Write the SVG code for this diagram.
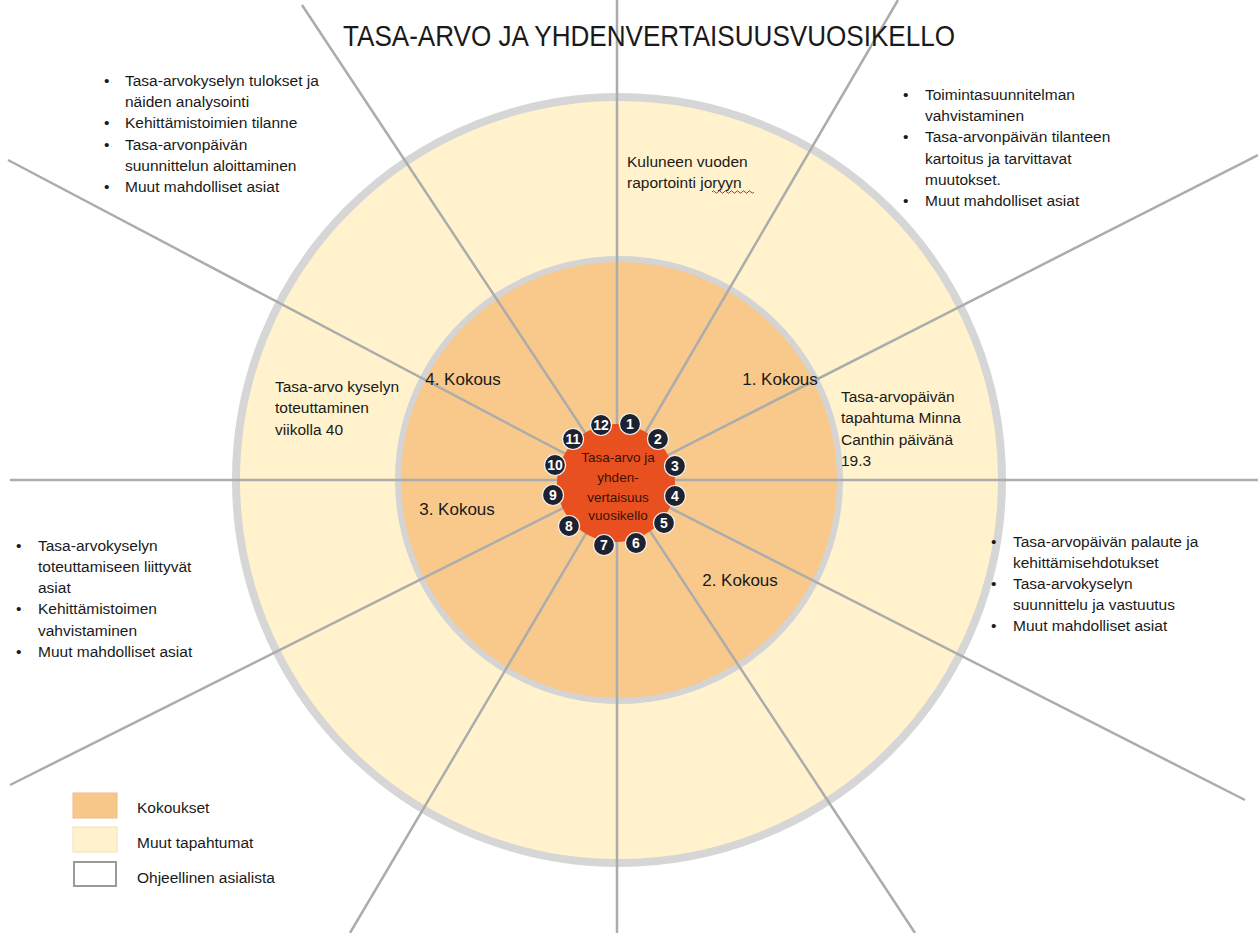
<svg xmlns="http://www.w3.org/2000/svg" width="1258" height="933" viewBox="0 0 1258 933">
<style>
text{font-family:"Liberation Sans",Arial,sans-serif;fill:#1a1a1a}
.t{font-size:15.5px}
.k{font-size:17px}
.c{font-size:13.5px;fill:#3a1208;text-anchor:middle}
.n{font-size:14px;font-weight:bold;fill:#fff;text-anchor:middle}
.spoke{stroke:#acacac;stroke-width:2.5;fill:none}
.num{fill:#1e2130;stroke:#f3f3f3;stroke-width:1.2}
</style>
<rect width="1258" height="933" fill="#fff"/>
<g id="outer-ring"><circle cx="619" cy="480" r="383" fill="#fff2cc" stroke="#d6d6d6" stroke-width="8"/></g>
<g id="inner-ring"><circle cx="619" cy="480" r="221" fill="#f9c98b" stroke="#d4d4d4" stroke-width="6"/></g>
<g id="connectors">
<line class="spoke" x1="617" y1="0" x2="617" y2="933"/>
<line class="spoke" x1="10" y1="480" x2="1258" y2="480"/>
<line class="spoke" x1="302" y1="5" x2="617" y2="481"/>
<line class="spoke" x1="898" y1="0" x2="617" y2="481"/>
<line class="spoke" x1="1258" y1="155" x2="617" y2="481"/>
<line class="spoke" x1="8" y1="160" x2="617" y2="481"/>
<line class="spoke" x1="10" y1="785" x2="617" y2="481"/>
<line class="spoke" x1="350" y1="933" x2="617" y2="481"/>
<line class="spoke" x1="915" y1="933" x2="617" y2="481"/>
<line class="spoke" x1="1245" y1="800" x2="617" y2="481"/>
</g>
<g id="title"><text x="343" y="46" font-size="30" textLength="612" lengthAdjust="spacingAndGlyphs">TASA-ARVO JA YHDENVERTAISUUSVUOSIKELLO</text></g>
<g id="center">
<circle cx="616" cy="483" r="59" fill="#e8511f"/>
<text class="c" x="618" y="462">Tasa-arvo ja</text>
<text class="c" x="618" y="482">yhden-</text>
<text class="c" x="618" y="502">vertaisuus</text>
<text class="c" x="618" y="520">vuosikello</text>
</g>
<g id="months">
<circle class="num" cx="601" cy="425" r="10.5"/><text class="n" x="601" y="430">12</text>
<circle class="num" cx="630" cy="424" r="10.5"/><text class="n" x="630" y="429">1</text>
<circle class="num" cx="658" cy="439" r="10.5"/><text class="n" x="658" y="444">2</text>
<circle class="num" cx="675" cy="466" r="10.5"/><text class="n" x="675" y="471">3</text>
<circle class="num" cx="675" cy="496" r="10.5"/><text class="n" x="675" y="501">4</text>
<circle class="num" cx="664" cy="523" r="10.5"/><text class="n" x="664" y="528">5</text>
<circle class="num" cx="636" cy="543" r="10.5"/><text class="n" x="636" y="548">6</text>
<circle class="num" cx="604" cy="545" r="10.5"/><text class="n" x="604" y="550">7</text>
<circle class="num" cx="569" cy="526" r="10.5"/><text class="n" x="569" y="531">8</text>
<circle class="num" cx="553" cy="495" r="10.5"/><text class="n" x="553" y="500">9</text>
<circle class="num" cx="555" cy="465" r="10.5"/><text class="n" x="555" y="470">10</text>
<circle class="num" cx="573" cy="439" r="10.5"/><text class="n" x="573" y="444">11</text>
</g>
<g id="meetings">
<text class="k" x="780" y="385" text-anchor="middle">1. Kokous</text>
<text class="k" x="740" y="586" text-anchor="middle">2. Kokous</text>
<text class="k" x="457" y="515" text-anchor="middle">3. Kokous</text>
<text class="k" x="463" y="385" text-anchor="middle">4. Kokous</text>
</g>
<g id="event-report">
<text class="t" x="627" y="167">Kuluneen vuoden</text>
<text class="t" x="627" y="188">raportointi joryyn</text>
<path d="M712,192 q1.5,-2.5 3,0 t3,0 t3,0 t3,0 t3,0 t3,0 t3,0 t3,0 t3,0 t3,0 t3,0 t3,0 t3,0 t3,0" fill="none" stroke="#e0201e" stroke-width="1"/>
</g>
<g id="event-survey">
<text class="t" x="275" y="392">Tasa-arvo kyselyn</text>
<text class="t" x="275" y="413">toteuttaminen</text>
<text class="t" x="275" y="435">viikolla 40</text>
</g>
<g id="event-day">
<text class="t" x="841" y="402">Tasa-arvopäivän</text>
<text class="t" x="841" y="423">tapahtuma Minna</text>
<text class="t" x="841" y="445">Canthin päivänä</text>
<text class="t" x="841" y="466">19.3</text>
</g>
<g id="agenda-4">
<text class="t" x="104" y="86">•</text><text class="t" x="125" y="86">Tasa-arvokyselyn tulokset ja</text>
<text class="t" x="125" y="107">näiden analysointi</text>
<text class="t" x="104" y="128">•</text><text class="t" x="125" y="128">Kehittämistoimien tilanne</text>
<text class="t" x="104" y="150">•</text><text class="t" x="125" y="150">Tasa-arvonpäivän</text>
<text class="t" x="125" y="171">suunnittelun aloittaminen</text>
<text class="t" x="104" y="192">•</text><text class="t" x="125" y="192">Muut mahdolliset asiat</text>
</g>
<g id="agenda-1">
<text class="t" x="903" y="100">•</text><text class="t" x="925" y="100">Toimintasuunnitelman</text>
<text class="t" x="925" y="121">vahvistaminen</text>
<text class="t" x="903" y="142">•</text><text class="t" x="925" y="142">Tasa-arvonpäivän tilanteen</text>
<text class="t" x="925" y="164">kartoitus ja tarvittavat</text>
<text class="t" x="925" y="185">muutokset.</text>
<text class="t" x="903" y="206">•</text><text class="t" x="925" y="206">Muut mahdolliset asiat</text>
</g>
<g id="agenda-3">
<text class="t" x="16" y="551">•</text><text class="t" x="38" y="551">Tasa-arvokyselyn</text>
<text class="t" x="38" y="572">toteuttamiseen liittyvät</text>
<text class="t" x="38" y="593">asiat</text>
<text class="t" x="16" y="614">•</text><text class="t" x="38" y="614">Kehittämistoimen</text>
<text class="t" x="38" y="636">vahvistaminen</text>
<text class="t" x="16" y="657">•</text><text class="t" x="38" y="657">Muut mahdolliset asiat</text>
</g>
<g id="agenda-2">
<text class="t" x="991" y="547">•</text><text class="t" x="1013" y="547">Tasa-arvopäivän palaute ja</text>
<text class="t" x="1013" y="568">kehittämisehdotukset</text>
<text class="t" x="991" y="589">•</text><text class="t" x="1013" y="589">Tasa-arvokyselyn</text>
<text class="t" x="1013" y="610">suunnittelu ja vastuutus</text>
<text class="t" x="991" y="631">•</text><text class="t" x="1013" y="631">Muut mahdolliset asiat</text>
</g>
<g id="legend">
<rect x="73" y="793" width="44" height="25" fill="#f8c88a" stroke="#efbd80" stroke-width="1"/>
<text class="t" x="137" y="813">Kokoukset</text>
<rect x="73" y="827" width="44" height="25" fill="#fff2cc" stroke="#efe2b8" stroke-width="1"/>
<text class="t" x="137" y="848">Muut tapahtumat</text>
<rect x="74" y="862" width="42" height="24" fill="#fff" stroke="#9a9a9a" stroke-width="2"/>
<text class="t" x="137" y="883">Ohjeellinen asialista</text>
</g>
</svg>
